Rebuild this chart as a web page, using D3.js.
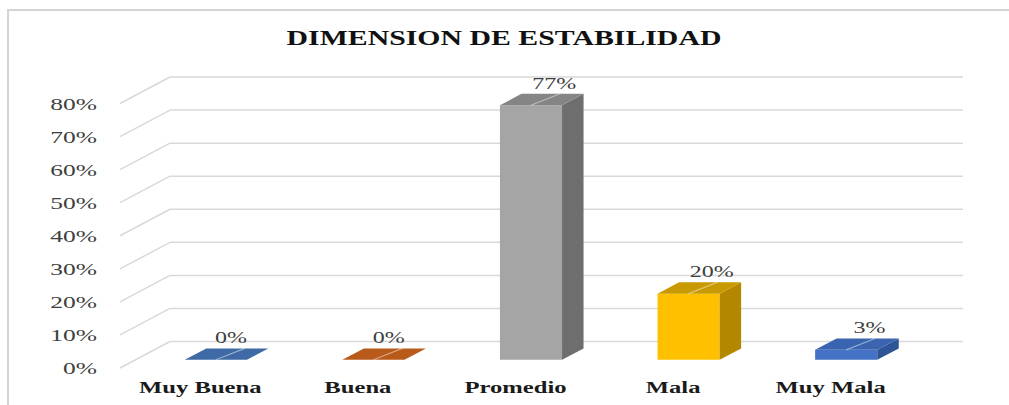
<!DOCTYPE html>
<html>
<head>
<meta charset="utf-8">
<script src="https://cdn.jsdelivr.net/npm/d3@7"></script>
<style>
  html, body { margin: 0; padding: 0; background: #fff; }
  svg { display: block; }
</style>
</head>
<body>
<svg id="chart" width="1009" height="405"></svg>
<script>
// ---- data ----
const categories = ["Muy Buena", "Buena", "Promedio", "Mala", "Muy Mala"];
const values = [0, 0, 0.77, 0.20, 0.03];
const valueLabels = ["0%", "0%", "77%", "20%", "3%"];
const yTicks = [0, 0.1, 0.2, 0.3, 0.4, 0.5, 0.6, 0.7, 0.8];
const yTickLabels = ["0%", "10%", "20%", "30%", "40%", "50%", "60%", "70%", "80%"];
const frontColors = ["#4a78b4", "#c5621c", "#a5a5a5", "#ffc000", "#4472c4"];
const sideColors  = ["#345a8c", "#97470f", "#6e6e6e", "#b38700", "#2f5597"];
const topColors   = ["#3f6aa6", "#b85a1a", "#858585", "#c99a00", "#3a64b0"];
const title = "DIMENSION DE ESTABILIDAD";

// ---- layout ----
const FONT = "'Liberation Serif', 'Times New Roman', 'DejaVu Serif', serif";
const svg = d3.select("#chart");
const DX = 50, DY = -26.5;       // oblique depth vector (full depth)
const z0 = 0.31, z1 = 0.74;      // bar depth range
const x = d3.scaleBand().domain(categories).range([122, 909]).paddingInner(0.606).paddingOuter(0.3);
const y = d3.scaleLinear().domain([0, 0.8]).range([368, 103.5]);
const bw = x.bandwidth();
const P = (sx, v, z) => [sx + z * DX, y(v) + z * DY];

// chart border (left + top visible)
svg.append("rect").attr("x", 8).attr("y", 10).attr("width", 1100).attr("height", 500)
  .attr("fill", "none").attr("stroke", "#d4d4d4").attr("stroke-width", 2);

// title
svg.append("text").attr("transform", "translate(504,45) scale(1.42,1)")
  .attr("font-family", FONT)
  .attr("text-anchor", "middle").attr("font-size", 21).attr("font-weight", "bold")
  .attr("fill", "#111").text(title);

// gridlines: left wall diagonals and back wall horizontals
const grid = svg.append("g").attr("stroke", "#d9d9d9").attr("stroke-width", 1.5).attr("fill", "none");
yTicks.forEach(t => {
  grid.append("line").attr("x1", 120).attr("y1", y(t)).attr("x2", 120 + DX).attr("y2", y(t) + DY);
  grid.append("line").attr("x1", 120 + DX).attr("y1", y(t) + DY).attr("x2", 963).attr("y2", y(t) + DY);
});

// y axis labels
svg.append("g").selectAll("text").data(yTicks).join("text")
  .attr("transform", (t) => `translate(97,${y(t) + 6}) scale(1.5,1)`)
  .attr("font-family", FONT)
  .attr("text-anchor", "end").attr("font-size", 17).attr("fill", "#404040")
  .text((t, i) => yTickLabels[i]);

// bars
const bars = svg.append("g");
const poly = pts => pts.map(p => p.join(",")).join(" ");
categories.forEach((c, i) => {
  const v = values[i];
  const xl = x(c), xr = x(c) + bw;
  const g = bars.append("g");
  if (v > 0) {
    g.append("polygon").attr("points", poly([P(xl, 0, z0), P(xr, 0, z0), P(xr, v, z0), P(xl, v, z0)]))
      .attr("fill", frontColors[i]);
    g.append("polygon").attr("points", poly([P(xr, 0, z0), P(xr, 0, z1), P(xr, v, z1), P(xr, v, z0)]))
      .attr("fill", sideColors[i]);
  }
  g.append("polygon").attr("points", poly([P(xl, v, z0), P(xr, v, z0), P(xr, v, z1), P(xl, v, z1)]))
    .attr("fill", topColors[i]);
  const a = P(xl + bw * 0.5, v, z0), b = P(xl + bw * 0.62, v, z1);
  g.append("line").attr("x1", a[0]).attr("y1", a[1]).attr("x2", b[0]).attr("y2", b[1])
    .attr("stroke", "#ffffff").attr("stroke-opacity", 0.45).attr("stroke-width", 1.2);
});

// data labels
svg.append("g").selectAll("text").data(categories).join("text")
  .attr("transform", (c, i) => {
    const v = values[i];
    const cx = x(c) + bw / 2 + ((z0 + z1) / 2) * DX + (v > 0 ? 12.5 : 4.5);
    const cy = y(v) + z1 * DY - 5;
    return `translate(${cx},${cy}) scale(1.5,1)`;
  })
  .attr("font-family", FONT)
  .attr("text-anchor", "middle").attr("font-size", 16).attr("fill", "#404040")
  .text((c, i) => valueLabels[i]);

// category labels
svg.append("g").selectAll("text").data(categories).join("text")
  .attr("transform", c => `translate(${x(c) + bw / 2},393) scale(1.45,1)`)
  .attr("font-family", FONT)
  .attr("text-anchor", "middle").attr("font-size", 17).attr("font-weight", "bold")
  .attr("fill", "#1a1a1a").text(c => c);
</script>
</body>
</html>
